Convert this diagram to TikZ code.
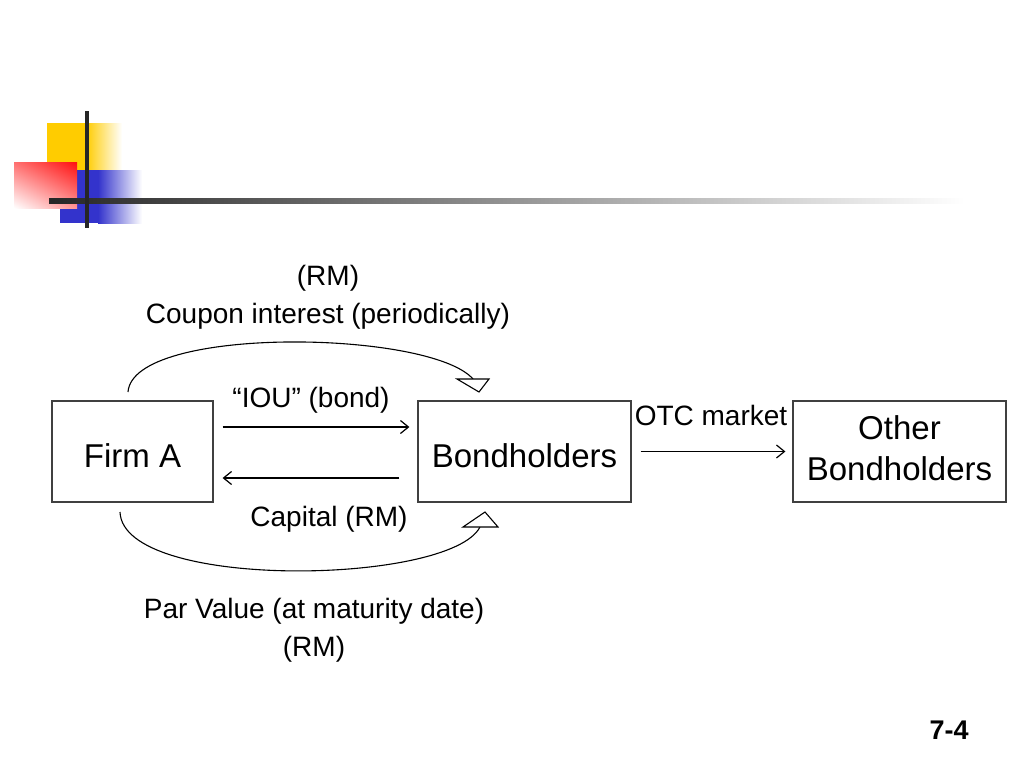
\documentclass[tikz,border=0pt]{standalone}
\usepackage{fontspec}
\setmainfont{Liberation Sans}
\usetikzlibrary{arrows.meta,shadings}
\definecolor{logoyellow}{HTML}{FFCC00}
\definecolor{logored}{HTML}{FF1010}
\definecolor{logoblue}{HTML}{3333CC}
\begin{document}
\begin{tikzpicture}[x=1pt,y=-1pt,
  box/.style={draw=black!75, line width=1.2pt, minimum height=101pt, inner sep=0pt,
    font=\fontsize{33}{41}\selectfont, align=center},
  lbl/.style={font=\fontsize{28}{38}\selectfont, align=center, inner sep=0pt},
  flow/.style={line width=1.2pt, -{Straight Barb[length=8pt,width=13pt]}},
  loop/.style={line width=1.1pt},
  head/.style={draw, line width=1.1pt, line join=miter, fill=white}]
\useasboundingbox (0,0) rectangle (1024,768);
% logo
\fill[logoyellow] (47,123) rectangle (86,170);
\shade[left color=logoyellow, right color=white] (86,123) rectangle (122,170);
\fill[logoblue] (60,170) rectangle (98,223);
\shade[left color=logoblue, right color=white] (98,170) rectangle (142,223);
\shade[upper left=logored!60, upper right=logored, lower left=white, lower right=logored!45] (14,162) rectangle (77,208);
\shade[left color=black!85, right color=white] (49,198.5) rectangle (965,203.5);
\fill[black!85] (85,111) rectangle (89,228);
% boxes
\node[box, minimum width=161pt, text height=32.6pt, text depth=0pt] (firm) at (132.5,451.5) {Firm A};
\node[box, minimum width=213pt, text height=32.6pt, text depth=0pt] (bond) at (524.5,451.5) {Bondholders};
\node[box, minimum width=213pt, text depth=6.5pt] (other) at (899.5,451.5) {Other\\Bondholders};
% straight arrows
\draw[flow, shorten <=9pt, shorten >=8pt] ([yshift=24.5pt]firm.east) -- ([yshift=24.5pt]bond.west);
\draw[flow, shorten <=18pt, shorten >=9pt] ([yshift=-26.5pt]bond.west) -- ([yshift=-26.5pt]firm.east);
\draw[flow, shorten <=9pt, shorten >=7pt] (bond.east) -- (other.west);
% curved arrows with open triangular heads
\coordinate (ts) at (128,392);
\coordinate (te) at (473,379);
\coordinate (bs) at (120,512);
\coordinate (be) at (480,527);
\draw[loop] (ts) .. controls (133,325) and (430,330) .. (te);
\draw[loop] (bs) .. controls (123,591) and (450,585) .. (be);
\draw[head] (457,379) -- (489,379) -- (479,392) -- cycle;
\draw[head] (463,527) -- (498,527) -- (485,512) -- cycle;
% labels
\node[lbl] (coupon) at (328,297) {(RM)\\Coupon interest (periodically)};
\node[lbl] (iou) at (311,400) {“IOU” (bond)};
\node[lbl] (capital) at (329,519) {Capital (RM)};
\node[lbl] (otc) at (711,415) {OTC market};
\node[lbl] (par) at (314,630) {Par Value (at maturity date)\\(RM)};
\node[font=\fontsize{27}{30}\selectfont\bfseries, inner sep=0pt] (page) at (949,730) {7-4};
\end{tikzpicture}
\end{document}
